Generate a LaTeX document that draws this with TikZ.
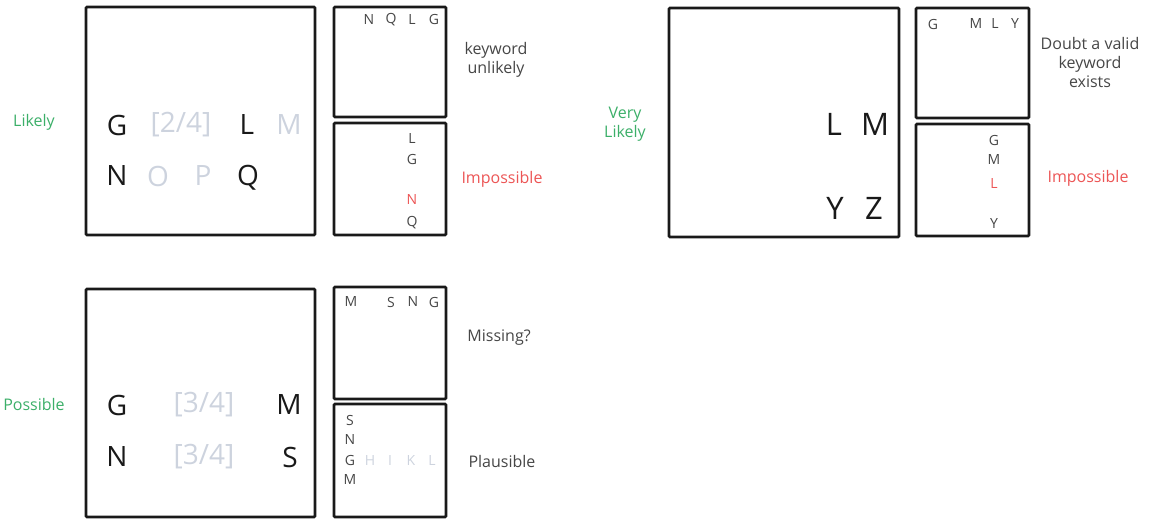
\documentclass[tikz,border=0pt]{standalone}
\usepackage{fontspec}
\setmainfont{Open Sans}
\definecolor{okgreen}{RGB}{60,175,105}
\definecolor{badred}{RGB}{236,85,85}
\definecolor{faint}{RGB}{205,211,222}
\definecolor{ink}{RGB}{25,25,25}
\definecolor{midink}{RGB}{70,70,70}
\tikzset{
  panel/.style={draw=ink, line width=2.8pt, rounded corners=1pt},
  big/.style={font=\fontsize{28}{30}\selectfont, text=ink, inner sep=0pt},
  bigger/.style={font=\fontsize{31}{33}\selectfont, text=ink, inner sep=0pt},
  bigfaint/.style={font=\fontsize{28}{30}\selectfont, text=faint, inner sep=0pt},
  sm/.style={font=\fontsize{14}{16}\selectfont, text=midink, inner sep=0pt},
  smfaint/.style={font=\fontsize{14}{16}\selectfont, text=faint, inner sep=0pt},
  smred/.style={font=\fontsize{14}{16}\selectfont, text=badred, inner sep=0pt},
  lab/.style={font=\fontsize{16}{19}\selectfont, align=center, inner sep=0pt},
}
\begin{document}
\begin{tikzpicture}[x=1pt,y=-1pt]
\useasboundingbox (0,0) rectangle (1151,519);
% ---------- top-left group
\node[lab, text=okgreen] (l1) at (34,122) {Likely};
\draw[panel] (86,7) rectangle (315,235);
\node[big] (a1) at (117,125) {G};
\node[bigfaint] (a2) at (181,125) {[2/4]};
\node[big] (a3) at (247,125) {L};
\node[bigfaint] (a4) at (289,125) {M};
\node[big] (a5) at (117,176) {N};
\node[bigfaint] (a6) at (158,176) {O};
\node[bigfaint] (a7) at (203,176) {P};
\node[big] (a8) at (248,178) {Q};
\draw[panel] (334,7) rectangle (446,117);
\node[sm] (b1) at (369,20) {N};
\node[sm] (b2) at (391,20) {Q};
\node[sm] (b3) at (412,20) {L};
\node[sm] (b4) at (434,20) {G};
\node[lab, text=midink] (k1) at (496,60) {keyword\\unlikely};
\draw[panel] (334,123) rectangle (446,235);
\node[sm] (c1) at (412,139) {L};
\node[sm] (c2) at (412,159) {G};
\node[smred] (c3) at (412,200) {N};
\node[sm] (c4) at (412,223) {Q};
\node[lab, text=badred] (i1) at (502,179) {Impossible};
% ---------- bottom-left group
\node[lab, text=okgreen] (l2) at (34,404) {Possible};
\draw[panel] (86,289) rectangle (315,517);
\node[big] (d1) at (117,405) {G};
\node[bigfaint] (d2) at (204,405) {[3/4]};
\node[big] (d3) at (289,405) {M};
\node[big] (d4) at (117,457) {N};
\node[bigfaint] (d5) at (204,457) {[3/4]};
\node[big] (d6) at (290,457) {S};
\draw[panel] (334,287) rectangle (446,399);
\node[sm] (e1) at (351,302) {M};
\node[sm] (e2) at (391,302) {S};
\node[sm] (e3) at (413,302) {N};
\node[sm] (e4) at (434,302) {G};
\node[lab, text=midink] (k2) at (499,338) {Missing?};
\draw[panel] (334,404) rectangle (446,517);
\node[sm] (f1) at (350,420) {S};
\node[sm] (f2) at (350,439) {N};
\node[sm] (f3) at (350,460) {G};
\node[sm] (f4) at (350,479) {M};
\node[smfaint] (f5) at (370,460) {H};
\node[smfaint] (f6) at (390,460) {I};
\node[smfaint] (f7) at (411,460) {K};
\node[smfaint] (f8) at (432,460) {L};
\node[lab, text=midink] (k3) at (502,461) {Plausible};
% ---------- right group
\node[lab, text=okgreen] (l3) at (625,124) {Very\\Likely};
\draw[panel] (669,8) rectangle (899,237);
\node[bigger] (g1) at (834,124) {L};
\node[bigger] (g2) at (875,124) {M};
\node[bigger] (g3) at (835,208) {Y};
\node[bigger] (g4) at (874,208) {Z};
\draw[panel] (916,8) rectangle (1029,118);
\node[sm] (h1) at (933,24) {G};
\node[sm] (h2) at (976,24) {M};
\node[sm] (h3) at (995,24) {L};
\node[sm] (h4) at (1015,24) {Y};
\node[lab, text=midink] (k4) at (1090,63) {Doubt a valid\\keyword\\exists};
\draw[panel] (916,124) rectangle (1029,236);
\node[sm] (j1) at (994,140) {G};
\node[sm] (j2) at (994,160) {M};
\node[smred] (j3) at (994,184) {L};
\node[sm] (j4) at (994,224) {Y};
\node[lab, text=badred] (i2) at (1088,178) {Impossible};
\end{tikzpicture}
\end{document}
